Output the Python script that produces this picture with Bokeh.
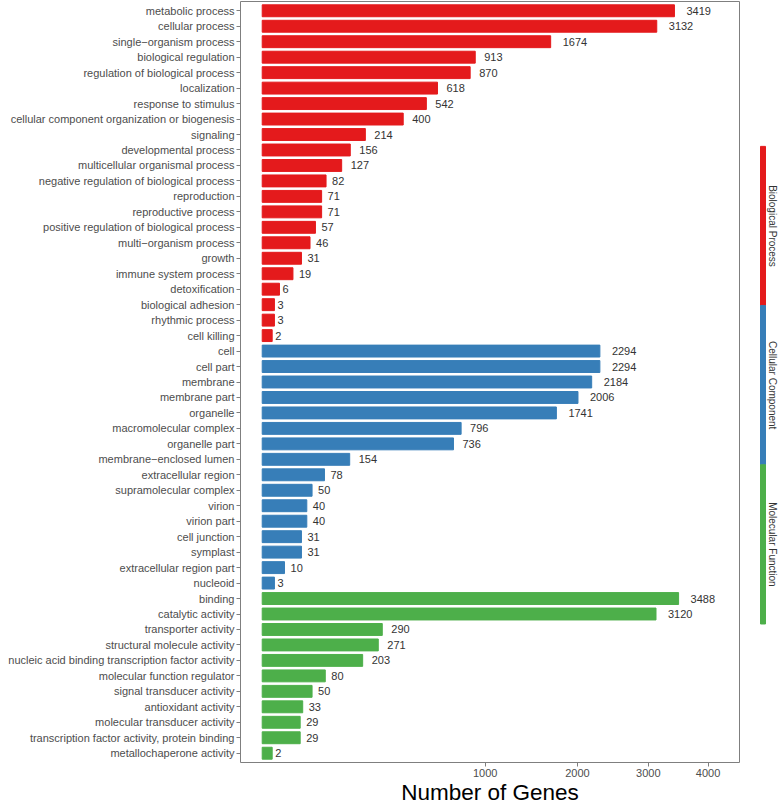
import numpy as np
from bokeh.core.properties import value
from bokeh.embed import file_html
from bokeh.layouts import row
from bokeh.models import ColumnDataSource, CustomJSTickFormatter, FactorRange, FixedTicker, Range1d
from bokeh.plotting import figure
from bokeh.resources import INLINE

# GO level-2 terms and gene counts, top to bottom as in the chart
bp_terms = ["metabolic process", "cellular process", "single\u2212organism process",
            "biological regulation", "regulation of biological process", "localization",
            "response to stimulus", "cellular component organization or biogenesis",
            "signaling", "developmental process", "multicellular organismal process",
            "negative regulation of biological process", "reproduction",
            "reproductive process", "positive regulation of biological process",
            "multi\u2212organism process", "growth", "immune system process",
            "detoxification", "biological adhesion", "rhythmic process", "cell killing"]
bp_counts = [3419, 3132, 1674, 913, 870, 618, 542, 400, 214, 156, 127,
             82, 71, 71, 57, 46, 31, 19, 6, 3, 3, 2]

cc_terms = ["cell", "cell part", "membrane", "membrane part", "organelle",
            "macromolecular complex", "organelle part", "membrane\u2212enclosed lumen",
            "extracellular region", "supramolecular complex", "virion", "virion part",
            "cell junction", "symplast", "extracellular region part", "nucleoid"]
cc_counts = [2294, 2294, 2184, 2006, 1741, 796, 736, 154, 78, 50, 40, 40, 31, 31, 10, 3]

mf_terms = ["binding", "catalytic activity", "transporter activity",
            "structural molecule activity",
            "nucleic acid binding transcription factor activity",
            "molecular function regulator", "signal transducer activity",
            "antioxidant activity", "molecular transducer activity",
            "transcription factor activity, protein binding", "metallochaperone activity"]
mf_counts = [3488, 3120, 290, 271, 203, 80, 50, 33, 29, 29, 2]

groups = ["Biological Process", "Cellular Component", "Molecular Function"]
group_colors = ["#E41A1C", "#377EB8", "#4DAF4A"]
tick_values = [1000, 2000, 3000, 4000]

FONT = value("Liberation Sans")

terms = bp_terms + cc_terms + mf_terms
counts = bp_counts + cc_counts + mf_counts
colors = ([group_colors[0]] * len(bp_terms) + [group_colors[1]] * len(cc_terms)
          + [group_colors[2]] * len(mf_terms))
labels = [str(c) for c in counts]

# the x axis is square-root scaled, so bars are drawn on sqrt(count)
src = ColumnDataSource(dict(
    term=terms,
    root=np.sqrt(counts),
    label=labels,
    off=[3.0 * len(s) for s in labels],  # roughly hjust = -0.5
    color=colors,
))

p = figure(width=740, height=807,
           y_range=FactorRange(factors=terms[::-1], range_padding=0.1,
                               range_padding_units="absolute"),
           x_range=Range1d(-3.08, 67.7),
           output_backend="svg", toolbar_location=None,
           min_border_left=240, min_border_right=1, min_border_top=1,
           min_border_bottom=41)

p.hbar(y="term", left=0, right="root", height=0.77, color="color", source=src)
p.text(x="root", y="term", text="label", x_offset="off", source=src,
       text_align="left", text_baseline="middle", text_font=FONT,
       text_font_size="11px", text_color="#333333")

p.grid.visible = False
p.outline_line_color = "#7f7f7f"
p.outline_line_width = 1
p.background_fill_color = "white"

p.xaxis.ticker = FixedTicker(ticks=list(np.sqrt(tick_values)))
p.xaxis.formatter = CustomJSTickFormatter(code="return Math.round(tick * tick).toString();")
p.xaxis.axis_label = "Number of Genes"
p.xaxis.axis_label_text_font = "Liberation Sans"
p.xaxis.axis_label_text_font_size = "22.5px"
p.xaxis.axis_label_text_font_style = "normal"
p.xaxis.axis_label_text_color = "black"
p.xaxis.axis_label_standoff = 0

for ax in (p.xaxis, p.yaxis):
    ax.axis_line_color = None
    ax.major_tick_in = 0
    ax.major_tick_out = 4
    ax.major_tick_line_color = "#7f7f7f"
    ax.minor_tick_line_color = None
    ax.major_label_standoff = 2
    ax.major_label_text_font = "Liberation Sans"
    ax.major_label_text_font_size = "11px"
    ax.major_label_text_color = "#4d4d4d"

# side strip naming the three GO categories; its frame lines up with the
# main panel, the ranges leave the strip in the middle part of that height
gsrc = ColumnDataSource(dict(
    idx=list(range(len(groups))),
    mid=[i + 0.5 for i in range(len(groups))],
    top=[i + 1 for i in range(len(groups))],
    name=groups,
    color=group_colors,
))

s = figure(width=38, height=807, x_range=Range1d(-4.5, 3.1),
           y_range=Range1d(len(groups) + 0.87, -0.91),
           output_backend="svg", toolbar_location=None,
           x_axis_location=None, y_axis_location=None,
           min_border_left=0, min_border_right=0, min_border_top=1, min_border_bottom=41)
s.outline_line_color = None
s.grid.visible = False
s.vbar(x=0, bottom="idx", top="top", width=1, color="color", source=gsrc)
s.text(x=0, y="mid", text="name", angle=-np.pi / 2, x_offset=9.5, source=gsrc,
       text_align="center", text_baseline="middle", text_font=FONT,
       text_font_size="10px", text_color="#333333")

open("out.html", "w").write(file_html(row(p, s), INLINE))
